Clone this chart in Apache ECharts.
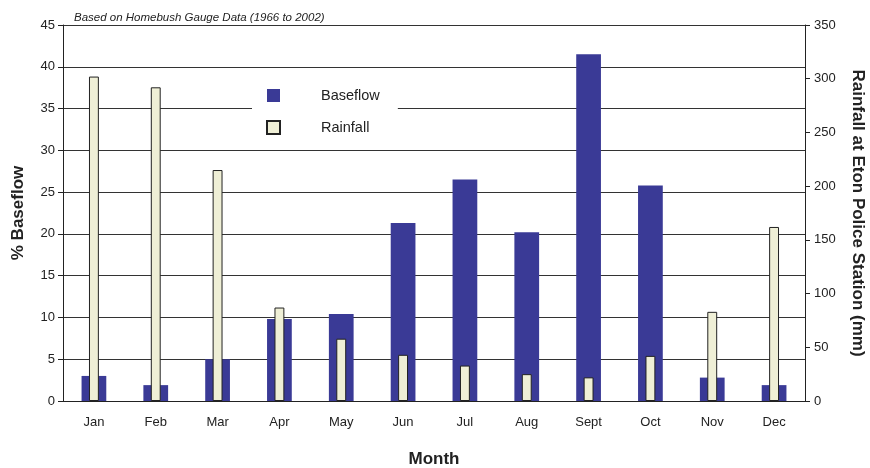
<!DOCTYPE html>
<html lang="en">
<head>
    <meta charset="UTF-8">
    <title>Baseflow and Rainfall</title>
    <style>
        * { margin: 0; }
        body { background: #fff; }
        #main { width: 870px; height: 468px; }
    </style>
    <script src="https://cdn.jsdelivr.net/npm/echarts@6/dist/echarts.min.js"></script>
</head>
<body>
<div id="main"></div>
<script>
    var months = ['Jan', 'Feb', 'Mar', 'Apr', 'May', 'Jun', 'Jul', 'Aug', 'Sept', 'Oct', 'Nov', 'Dec'];
    var baseflow = [3.0, 1.9, 5.0, 9.8, 10.4, 21.3, 26.5, 20.2, 41.5, 25.8, 2.8, 1.9];
    var rainfall = [302, 292, 215, 87, 58, 43, 33, 25, 22, 42, 83, 162];

    var myChart = echarts.init(document.getElementById('main'));
    var font = 'Liberation Sans, Arial, sans-serif';

    var option = {
        animation: false,
        textStyle: { fontFamily: font },
        title: {
            text: 'Based on Homebush Gauge Data (1966 to 2002)',
            left: 69,
            top: 7,
            textStyle: { fontSize: 11.5, fontStyle: 'italic', fontWeight: 'normal', color: '#222', fontFamily: font }
        },
        legend: {
            orient: 'vertical',
            left: 252,
            top: 78,
            padding: [10, 18, 8, 14],
            backgroundColor: '#fff',
            itemWidth: 13,
            itemHeight: 13,
            itemGap: 17,
            textStyle: { fontSize: 14.5, color: '#222', padding: [0, 0, 0, 36] },
            data: [
                { name: 'Baseflow', icon: 'rect' },
                { name: 'Rainfall', icon: 'rect' }
            ]
        },
        grid: { left: 63, right: 65, top: 25, bottom: 67, outerBoundsMode: 'none', containLabel: false },
        xAxis: [
            {
                type: 'category',
                data: months,
                name: 'Month',
                nameLocation: 'middle',
                nameGap: 50,
                nameTextStyle: { fontSize: 17, fontWeight: 'bold', color: '#222' },
                axisLine: { lineStyle: { color: '#222' } },
                axisTick: { length: 5, lineStyle: { color: '#222' } },
                axisLabel: { fontSize: 13, color: '#222', margin: 15 }
            },
            {
                type: 'category',
                data: months,
                show: false
            }
        ],
        yAxis: [
            {
                type: 'value',
                min: 0,
                max: 45,
                interval: 5,
                name: '% Baseflow',
                nameLocation: 'middle',
                nameGap: 36,
                nameTextStyle: { fontSize: 17, fontWeight: 'bold', color: '#222' },
                axisLine: { show: true, lineStyle: { color: '#222' } },
                axisTick: { show: true, length: 5, lineStyle: { color: '#222' } },
                axisLabel: { fontSize: 13, color: '#222', margin: 8 },
                splitLine: { lineStyle: { color: '#333', width: 1 } }
            },
            {
                type: 'value',
                min: 0,
                max: 350,
                interval: 50,
                position: 'right',
                name: 'Rainfall at Eton Police Station (mm)',
                nameLocation: 'middle',
                nameGap: 44,
                nameRotate: -90,
                nameTextStyle: { fontSize: 17, fontWeight: 'bold', color: '#222' },
                axisLine: { show: true, lineStyle: { color: '#222' } },
                axisTick: { show: true, length: 5, lineStyle: { color: '#222' } },
                axisLabel: { fontSize: 13, color: '#222', margin: 9 },
                splitLine: { show: false }
            }
        ],
        series: [
            {
                name: 'Baseflow',
                type: 'bar',
                xAxisIndex: 0,
                yAxisIndex: 0,
                barWidth: '40%',
                itemStyle: { color: '#3a3a96' },
                data: baseflow
            },
            {
                name: 'Rainfall',
                type: 'bar',
                xAxisIndex: 1,
                yAxisIndex: 1,
                barWidth: '16%',
                itemStyle: { color: '#efefd6', borderColor: '#222', borderWidth: 1 },
                data: rainfall
            }
        ]
    };
    myChart.setOption(option);
</script>
</body>
</html>
